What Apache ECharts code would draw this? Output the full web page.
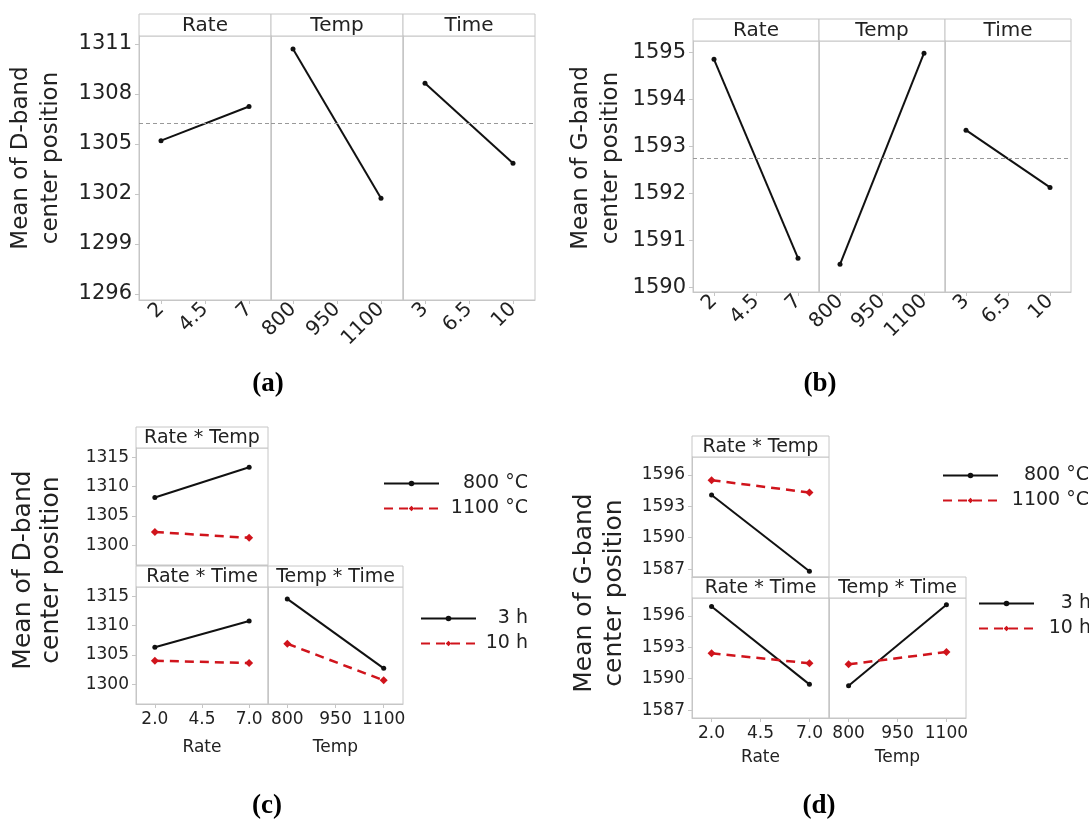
<!DOCTYPE html>
<html><head><meta charset="utf-8">
<script src="https://cdn.jsdelivr.net/npm/echarts@6/dist/echarts.min.js"></script>
<style>html,body{margin:0;padding:0;background:#fff}#c{width:1089px;height:826px}</style>
</head><body><div id="c"></div>
<script>
// ---------------- data ----------------
const rateTicks = [2, 4.5, 7];
const tempTicks = [800, 950, 1100];
const timeTicks = [3, 6.5, 10];
const rateLabelsMain = ['2', '4.5', '7'];
const rateLabelsInt = ['2.0', '4.5', '7.0'];
const tempLabels = ['800', '950', '1100'];
const timeLabels = ['3', '6.5', '10'];
const rateLevels = [2, 7];
const tempLevels = [800, 1100];
const timeLevels = [3, 10];

// (a) main effects, D-band
const dRate = [1305.2, 1307.25];
const dTemp = [1310.7, 1301.74];
const dTime = [1308.64, 1303.85];
const dMean = 1306.22;
const dMainTicks = [1296, 1299, 1302, 1305, 1308, 1311];

// (b) main effects, G-band
const gRate = [1594.86, 1590.62];
const gTemp = [1590.49, 1594.99];
const gTime = [1593.35, 1592.13];
const gMean = 1592.75;
const gMainTicks = [1590, 1591, 1592, 1593, 1594, 1595];

// (c) interactions, D-band
const dRT800 = [1308.15, 1313.3];
const dRT1100 = [1302.25, 1301.24];
const dRTi3 = [1306.31, 1310.8];
const dRTi10 = [1304.0, 1303.6];
const dTTi3 = [1314.56, 1302.7];
const dTTi10 = [1306.9, 1300.64];
const dIntTicks = [1300, 1305, 1310, 1315];

// (d) interactions, G-band
const gRT800 = [1594.08, 1586.8];
const gRT1100 = [1595.49, 1594.31];
const gRTi3 = [1596.89, 1589.46];
const gRTi10 = [1592.43, 1591.47];
const gTTi3 = [1589.33, 1597.05];
const gTTi10 = [1591.37, 1592.55];
const gIntTicks = [1587, 1590, 1593, 1596];

const tempNames = ['800 °C', '1100 °C'];
const timeNames = ['3 h', '10 h'];

// ---------------- styling / layout ----------------
const FONT = 'DejaVu Sans';
const BORDER = '#c6c6c6';
const TXT = '#222';
const RED = '#d0141c';
const grids = [], xAxes = [], yAxes = [], series = [], graphics = [], legends = [];

function labelOf(ticks, labels, v) {
  const i = ticks.findIndex(t => Math.abs(t - v) < 1e-9);
  return i >= 0 ? labels[i] : '';
}

function addHeader(left, top, width, height, text, fs) {
  graphics.push({type: 'rect', shape: {x: left, y: top, width: width, height: height},
    style: {fill: '#fff', stroke: BORDER, lineWidth: 1}, silent: true});
  graphics.push({type: 'text', x: left + width / 2, y: top + height / 2 + 1,
    style: {text: text, fill: TXT, fontSize: fs, fontFamily: FONT, align: 'center', verticalAlign: 'middle'}, silent: true});
}

function addPlot(o) {
  const gi = grids.length;
  grids.push({left: o.left, top: o.top, width: o.width, height: o.height, show: true,
    borderColor: BORDER, borderWidth: 1, backgroundColor: 'transparent', containLabel: false});
  const xt = o.xTicks;
  const span = xt[xt.length - 1] - xt[0];
  xAxes.push({
    type: 'value', gridIndex: gi,
    min: xt[0] - span * o.pad, max: xt[xt.length - 1] + span * o.pad,
    axisLine: {show: true, onZero: false, lineStyle: {color: BORDER}},
    axisTick: {show: o.showX, length: 4, lineStyle: {color: BORDER}, customValues: xt},
    axisLabel: {show: o.showX, customValues: xt, rotate: o.rotate || 0, margin: o.xMargin || 7,
      fontSize: o.xFs, fontFamily: FONT, color: TXT,
      formatter: v => labelOf(xt, o.xLabels, v)},
    splitLine: {show: false},
    name: o.xName || '', nameLocation: 'middle', nameGap: o.nameGap || 30,
    nameTextStyle: {fontSize: o.xFs, fontFamily: FONT, color: TXT}
  });
  yAxes.push({
    type: 'value', gridIndex: gi, min: o.yMin, max: o.yMax,
    axisLine: {show: true, onZero: false, lineStyle: {color: BORDER}},
    axisTick: {show: o.showY, length: 4, lineStyle: {color: BORDER}, customValues: o.yTicks},
    axisLabel: {show: o.showY, customValues: o.yTicks, margin: 7, fontSize: o.yFs, fontFamily: FONT, color: TXT,
      formatter: v => String(v)},
    splitLine: {show: false}
  });
  (o.series || []).forEach(s => {
    const red = s.red;
    const ser = {
      type: 'line', name: s.name, xAxisIndex: gi, yAxisIndex: gi,
      data: s.levels.map((x, i) => [x, s.values[i]]),
      symbol: red ? 'diamond' : 'circle', symbolSize: red ? 8 : 5,
      lineStyle: {color: red ? RED : '#111', width: red ? 2.5 : 2, type: red ? [9, 6] : 'solid'},
      itemStyle: {color: red ? RED : '#111'},
      silent: true, z: 3
    };
    if (s.mean !== undefined) {
      ser.markLine = {silent: true, symbol: 'none', label: {show: false},
        lineStyle: {color: '#999', width: 1, type: [4, 3]}, data: [{yAxis: s.mean}]};
    }
    series.push(ser);
  });
}

function addYTitle(x, y, lines, fs, lh) {
  graphics.push({type: 'text', x: x, y: y, rotation: Math.PI / 2,
    style: {text: lines.join('\n'), fill: TXT, fontSize: fs, fontFamily: FONT, lineHeight: lh,
      align: 'center', verticalAlign: 'middle'}, silent: true});
}
function addPanelLabel(x, y, text) {
  graphics.push({type: 'text', x: x, y: y,
    style: {text: text, fill: '#000', fontSize: 27, fontWeight: 'bold', fontFamily: 'Liberation Serif',
      align: 'center', verticalAlign: 'middle'}, silent: true});
}
function addLegend(names, left, top, textW) {
  legends.push({data: names, orient: 'vertical', left: left, top: top, itemWidth: 55, itemHeight: 7,
    itemGap: 6, selectedMode: false, padding: 0,
    formatter: '{r|{name}}',
    textStyle: {rich: {r: {width: textW, align: 'right', fontSize: 19, fontFamily: FONT, color: TXT}}}});
}

// ---- Panel (a) & (b): main effects ----
function mainPanel(P) {
  const facs = [
    {name: 'Rate', ticks: rateTicks, labels: rateLabelsMain, levels: rateLevels, vals: P.rate},
    {name: 'Temp', ticks: tempTicks, labels: tempLabels, levels: tempLevels, vals: P.temp},
    {name: 'Time', ticks: timeTicks, labels: timeLabels, levels: timeLevels, vals: P.time}
  ];
  facs.forEach((f, k) => {
    const left = P.left + k * P.w;
    addHeader(left, P.hTop, P.w, P.top - P.hTop, f.name, 20);
    addPlot({left: left, top: P.top, width: P.w, height: P.bottom - P.top,
      xTicks: f.ticks, xLabels: f.labels, pad: 0.25, rotate: 45, xFs: 20, xMargin: 6, showX: true,
      yMin: P.yMin, yMax: P.yMax, yTicks: P.yTicks, showY: k === 0, yFs: 21,
      series: [{name: f.name, levels: f.levels, values: f.vals, mean: P.mean}]});
  });
}
mainPanel({left: 139, w: 132, hTop: 14, top: 36, bottom: 300, yMin: 1295.64, yMax: 1311.48,
  yTicks: dMainTicks, rate: dRate, temp: dTemp, time: dTime, mean: dMean});
mainPanel({left: 693, w: 126, hTop: 19, top: 41, bottom: 292, yMin: 1589.9, yMax: 1595.25,
  yTicks: gMainTicks, rate: gRate, temp: gTemp, time: gTime, mean: gMean});

// ---- Panel (c) & (d): interactions ----
function intPanel(P) {
  const hH = P.hH;
  addHeader(P.left, P.top1 - hH, P.w1, hH, 'Rate * Temp', 19);
  addPlot({left: P.left, top: P.top1, width: P.w1, height: P.h,
    xTicks: rateTicks, xLabels: rateLabelsInt, pad: 0.2, xFs: 17, showX: false,
    yMin: P.yMin, yMax: P.yMax, yTicks: P.yTicks, showY: true, yFs: 17,
    series: [{name: tempNames[0], levels: rateLevels, values: P.rt800},
             {name: tempNames[1], levels: rateLevels, values: P.rt1100, red: true}]});
  addHeader(P.left, P.top2 - hH, P.w1, hH, 'Rate * Time', 19);
  addHeader(P.left + P.w1, P.top2 - hH, P.w2, hH, 'Temp * Time', 19);
  addPlot({left: P.left, top: P.top2, width: P.w1, height: P.h,
    xTicks: rateTicks, xLabels: rateLabelsInt, pad: 0.2, xFs: 17, showX: true, xMargin: 7,
    xName: 'Rate', nameGap: P.nameGap,
    yMin: P.yMin, yMax: P.yMax, yTicks: P.yTicks, showY: true, yFs: 17,
    series: [{name: timeNames[0], levels: rateLevels, values: P.rti3},
             {name: timeNames[1], levels: rateLevels, values: P.rti10, red: true}]});
  addPlot({left: P.left + P.w1, top: P.top2, width: P.w2, height: P.h,
    xTicks: tempTicks, xLabels: tempLabels, pad: 0.2, xFs: 17, showX: true, xMargin: 7,
    xName: 'Temp', nameGap: P.nameGap,
    yMin: P.yMin, yMax: P.yMax, yTicks: P.yTicks, showY: false, yFs: 17,
    series: [{name: timeNames[0], levels: tempLevels, values: P.tti3},
             {name: timeNames[1], levels: tempLevels, values: P.tti10, red: true}]});
}
intPanel({left: 136, w1: 132, w2: 135, hH: 21, top1: 448, top2: 587, h: 117, nameGap: 35,
  yMin: 1296.6, yMax: 1316.6, yTicks: dIntTicks,
  rt800: dRT800, rt1100: dRT1100, rti3: dRTi3, rti10: dRTi10, tti3: dTTi3, tti10: dTTi10});
intPanel({left: 692, w1: 137, w2: 137, hH: 21, top1: 457, top2: 598, h: 120, nameGap: 31,
  yMin: 1586.25, yMax: 1597.7, yTicks: gIntTicks,
  rt800: gRT800, rt1100: gRT1100, rti3: gRTi3, rti10: gRTi10, tti3: gTTi3, tti10: gTTi10});

addLegend(tempNames, 383, 474, 84);
addLegend(timeNames, 420, 609, 47);
addLegend(tempNames, 942, 466, 86);
addLegend(timeNames, 978, 594, 52);

addYTitle(36, 158, ['Mean of D-band', 'center position'], 23, 30);
addYTitle(596, 158, ['Mean of G-band', 'center position'], 23, 30);
addYTitle(37, 570, ['Mean of D-band', 'center position'], 25, 28);
addYTitle(599, 593, ['Mean of G-band', 'center position'], 25, 30);

addPanelLabel(268, 384, '(a)');
addPanelLabel(820, 384, '(b)');
addPanelLabel(267, 806, '(c)');
addPanelLabel(819, 806, '(d)');

const chart = echarts.init(document.getElementById('c'), null, {renderer: 'canvas'});
chart.setOption({
  animation: false,
  backgroundColor: '#fff',
  grid: grids, xAxis: xAxes, yAxis: yAxes, series: series,
  legend: legends,
  graphic: {elements: graphics},
  tooltip: {show: false}
});
</script></body></html>
